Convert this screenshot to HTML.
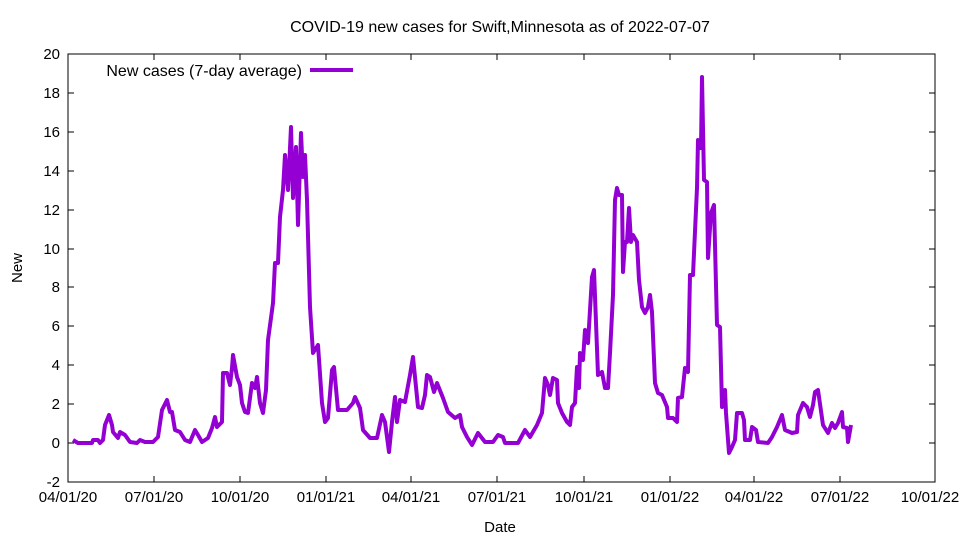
<!DOCTYPE html>
<html><head><meta charset="utf-8"><style>body{margin:0;background:#fff}svg{display:block}</style></head><body>
<svg width="960" height="540" xmlns="http://www.w3.org/2000/svg" font-family="Liberation Sans, sans-serif" font-size="15">
<rect width="960" height="540" fill="#fff"/>
<text x="500" y="32" text-anchor="middle" font-size="16">COVID-19 new cases for Swift,Minnesota as of 2022-07-07</text>
<rect x="68" y="54" width="867" height="428" fill="none" stroke="#000" stroke-width="1"/>
<g stroke="#000" stroke-width="1">
<path d="M68 54h6M68 93h6M68 132h6M68 171h6M68 210h6M68 249h6M68 287h6M68 326h6M68 365h6M68 404h6M68 443h6M68 482h6
M935 54h-6M935 93h-6M935 132h-6M935 171h-6M935 210h-6M935 249h-6M935 287h-6M935 326h-6M935 365h-6M935 404h-6M935 443h-6M935 482h-6
M68 482v-6M154 482v-6M240 482v-6M326 482v-6M411 482v-6M497 482v-6M584 482v-6M670 482v-6M754 482v-6M840 482v-6M935 482v-6
M154 54v6M240 54v6M326 54v6M411 54v6M497 54v6M584 54v6M670 54v6M754 54v6M840 54v6"/>
</g>
<g text-anchor="end">
<text x="60" y="59">20</text><text x="60" y="98">18</text><text x="60" y="137">16</text><text x="60" y="176">14</text><text x="60" y="215">12</text><text x="60" y="254">10</text><text x="60" y="292">8</text><text x="60" y="331">6</text><text x="60" y="370">4</text><text x="60" y="409">2</text><text x="60" y="448">0</text><text x="60" y="487">-2</text>
</g>
<g text-anchor="middle">
<text x="68" y="502">04/01/20</text><text x="154" y="502">07/01/20</text><text x="240" y="502">10/01/20</text><text x="326" y="502">01/01/21</text><text x="411" y="502">04/01/21</text><text x="497" y="502">07/01/21</text><text x="584" y="502">10/01/21</text><text x="670" y="502">01/01/22</text><text x="754" y="502">04/01/22</text><text x="840" y="502">07/01/22</text><text x="930" y="502">10/01/22</text>
<text x="500" y="532">Date</text>
<text x="22" y="268" transform="rotate(-90 22 268)">New</text>
</g>
<text x="302" y="76" text-anchor="end" font-size="16">New cases (7-day average)</text>
<line x1="310" y1="70" x2="353" y2="70" stroke="#9400d3" stroke-width="4"/>
<polyline fill="none" stroke="#9400d3" stroke-width="4" stroke-linejoin="round" points="73,440 78,443 92,443 93,440 98,440 100,443 103,440 105,425 109,415 112,425 113,432 118,438 120,432 125,435 130,442 137,443 140,440 145,442 153,442 158,437 162,410 167,400 170,412 172,412 175,430 180,432 185,440 190,442 195,430 198,435 202,442 208,438 212,428 215,417 217,427 222,422 223,373 227,373 230,385 232,368 233,355 237,377 240,385 242,403 245,412 248,413 252,383 255,388 257,377 260,403 263,413 266,390 268,340 271,318 273,303 275,263 278,263 280,217 283,190 285,155 288,190 291,127 293,198 296,147 298,225 301,133 303,177 305,155 307,200 310,307 313,353 318,345 322,403 325,422 328,418 332,370 334,367 338,410 347,410 353,403 355,397 360,408 363,430 370,438 377,438 382,415 385,422 389,452 392,422 395,397 397,422 400,400 405,402 410,375 413,357 418,407 422,408 425,395 427,375 430,377 434,392 437,383 443,398 448,412 455,418 460,415 462,427 467,437 472,445 478,433 485,442 493,442 498,435 503,437 505,443 518,443 525,430 530,437 537,425 542,413 545,378 548,385 550,395 553,378 557,380 558,403 562,413 567,422 570,425 572,407 575,403 577,367 579,388 580,353 583,360 585,330 588,343 592,277 594,270 598,375 602,372 605,388 608,388 610,353 613,295 615,200 617,188 619,195 622,195 623,272 625,242 627,242 629,208 631,242 633,235 637,242 639,280 642,307 645,313 648,307 650,295 652,312 655,383 658,393 662,395 667,407 668,418 673,418 677,422 678,398 682,397 683,387 685,368 688,372 690,275 693,275 697,188 698,140 701,148 702,77 704,180 707,182 708,258 711,213 714,205 717,325 720,327 722,407 725,390 726,413 729,453 732,447 735,440 737,413 742,413 744,420 745,440 750,440 752,427 756,430 758,442 768,443 772,437 777,427 782,415 785,430 792,433 797,432 798,415 803,403 807,407 810,417 813,405 815,392 818,390 823,425 828,433 832,423 835,428 838,423 842,412 843,427 847,428 848,442 851,425"/>
</svg>
</body></html>
